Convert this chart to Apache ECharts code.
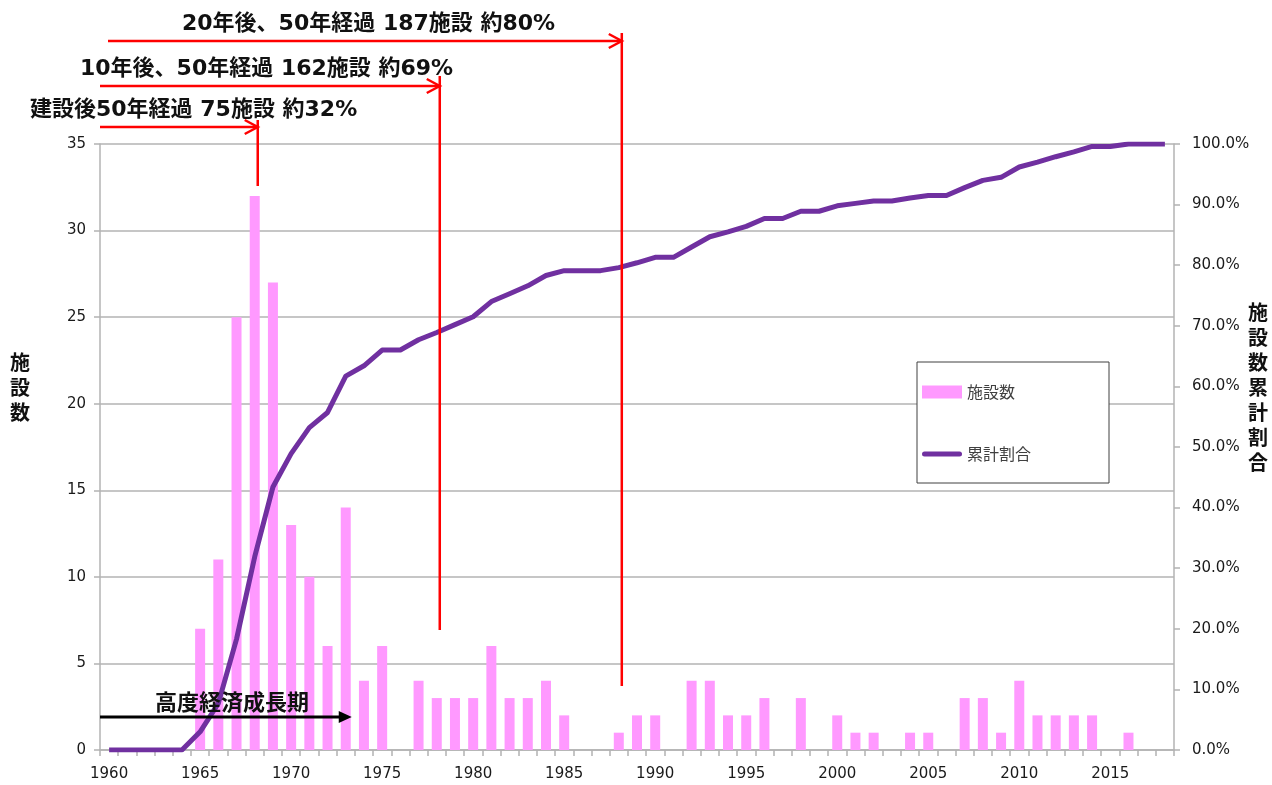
<!DOCTYPE html>
<html><head><meta charset="utf-8">
<script src="https://cdn.jsdelivr.net/npm/echarts@6/dist/echarts.min.js"></script>
<style>html,body{margin:0;padding:0;background:#fff}#c{width:1272px;height:785px}</style>
</head><body><div id="c"></div>
<script>
const years = ['1960','1961','1962','1963','1964','1965','1966','1967','1968','1969',
  '1970','1971','1972','1973','1974','1975','1976','1977','1978','1979',
  '1980','1981','1982','1983','1984','1985','1986','1987','1988','1989',
  '1990','1991','1992','1993','1994','1995','1996','1997','1998','1999',
  '2000','2001','2002','2003','2004','2005','2006','2007','2008','2009',
  '2010','2011','2012','2013','2014','2015','2016','2017','2018'];
const facilityCounts = [0,0,0,0,0, 7,11,25,32,27, 13,10,6,14,4, 6,0,4,3,3,
  3,6,3,3,4, 2,0,0,1,2, 2,0,4,4,2, 2,3,0,3,0, 2,1,1,0,1, 1,0,3,3,1,
  4,2,2,2,2, 0,1,0,0];
const cumulativePct = [0,0,0,0,0, 3.0,7.7,18.3,31.9,43.4, 48.9,53.2,55.7,61.7,63.4,
  66.0,66.0,67.7,68.9,70.2, 71.5,74.0,75.3,76.6,78.3, 79.1,79.1,79.1,79.6,80.4,
  81.3,81.3,83.0,84.7,85.5, 86.4,87.7,87.7,88.9,88.9, 89.8,90.2,90.6,90.6,91.1,
  91.5,91.5,92.8,94.0,94.5, 96.2,97.0,97.9,98.7,99.6, 99.6,100,100,100];
const leftTicks = {min:0, max:35, interval:5};
const rightTicks = {min:0, max:100, interval:10};
const seriesNames = ['施設数','累計割合'];
const annotations = [
  {year:'1968', text:'建設後50年経過 75施設 約32%'},
  {year:'1978', text:'10年後、50年経過 162施設 約69%'},
  {year:'1988', text:'20年後、50年経過 187施設 約80%'}
];
const periodLabel = '高度経済成長期';
const periodEndYear = '1973';
const leftAxisName = '施設数';
const rightAxisName = '施設数累計割合';

const FONT = '"DejaVu Sans", sans-serif';
const JP = '"Noto Sans CJK JP", sans-serif';
const MIX = '"DejaVu Sans", "Noto Sans CJK JP", sans-serif';
const chart = echarts.init(document.getElementById('c'), null, {renderer:'canvas'});
const gridColor = '#b3b3b3';
const lineIcon = 'path://M2.5,0 L37.5,0 A2.5,2.5 0 0 1 37.5,5 L2.5,5 A2.5,2.5 0 0 1 2.5,0 Z';
chart.setOption({
  animation:false,
  backgroundColor:'#fff',
  grid:{left:100, right:98, top:144, bottom:35, containLabel:false},
  legend:{
    orient:'vertical', left:917, top:362,
    padding:[22,78,21,5], itemGap:46,
    borderColor:'#404040', borderWidth:1, backgroundColor:'#fff',
    itemWidth:40, itemHeight:13,
    textStyle:{fontFamily:JP, fontSize:16, color:'#404040'},
    data:[{name:seriesNames[0], icon:'rect'},{name:seriesNames[1], icon:lineIcon}]
  },
  xAxis:{
    type:'category', data:years, boundaryGap:true,
    axisLine:{lineStyle:{color:gridColor, width:1.5}},
    axisTick:{show:true, interval:0, length:6, lineStyle:{color:gridColor, width:1.5}},
    axisLabel:{interval:4, margin:17, fontFamily:FONT, fontSize:15, color:'#1a1a1a'},
    splitLine:{show:false}
  },
  yAxis:[{
    type:'value', min:leftTicks.min, max:leftTicks.max, interval:leftTicks.interval,
    axisLine:{show:true, lineStyle:{color:gridColor, width:1.5}},
    axisTick:{show:true, length:6, lineStyle:{color:gridColor, width:1.5}},
    axisLabel:{margin:14, fontFamily:FONT, fontSize:15, color:'#1a1a1a'},
    splitLine:{show:true, lineStyle:{color:gridColor, width:1.5}}
  },{
    type:'value', min:rightTicks.min, max:rightTicks.max, interval:rightTicks.interval,
    position:'right',
    axisLine:{show:true, lineStyle:{color:gridColor, width:1.5}},
    axisTick:{show:true, length:6, lineStyle:{color:gridColor, width:1.5}},
    axisLabel:{margin:18, fontFamily:FONT, fontSize:15, color:'#1a1a1a',
      formatter:v=>v.toFixed(1)+'%'},
    splitLine:{show:false}
  }],
  series:[{
    name:seriesNames[0], type:'bar', data:facilityCounts, barWidth:10,
    itemStyle:{color:'#ff99ff'}, yAxisIndex:0
  },{
    name:seriesNames[1], type:'line', data:cumulativePct, yAxisIndex:1,
    symbol:'none', showSymbol:false, lineStyle:{color:'#7030a0', width:5, join:'round'},
    itemStyle:{color:'#7030a0'}
  }]
});

const px = y => chart.convertToPixel({xAxisIndex:0}, y);
const red = '#ff0000';
const g = [];
const rows = [
  {textX:30, textY:110, arrowY:127, startX:100, lineTop:120, lineBottom:186},
  {textX:80, textY:69, arrowY:86, startX:100, lineTop:76, lineBottom:630},
  {textX:182, textY:24, arrowY:41, startX:108, lineTop:33, lineBottom:686}
];
annotations.forEach((a,i)=>{
  const r = rows[i];
  const x = px(a.year) + 3;
  g.push({type:'text', x:r.textX, y:r.textY, z:100,
    style:{text:a.text, font:'bold 22px '+MIX, fill:'#111', verticalAlign:'middle', align:'left'}});
  g.push({type:'polyline', z:100, shape:{points:[[r.startX,r.arrowY],[x,r.arrowY]]},
    style:{stroke:red, lineWidth:2.5, fill:null}});
  g.push({type:'polyline', z:100, shape:{points:[[x-13,r.arrowY-7],[x,r.arrowY],[x-13,r.arrowY+7]]},
    style:{stroke:red, lineWidth:2.5, fill:null}});
  g.push({type:'line', z:100, shape:{x1:x, y1:r.lineTop, x2:x, y2:r.lineBottom},
    style:{stroke:red, lineWidth:2.5}});
});
// period arrow
const endX = px(periodEndYear) + 6;
const ay = 717;
g.push({type:'line', z:100, shape:{x1:100, y1:ay, x2:endX-10, y2:ay}, style:{stroke:'#000', lineWidth:3}});
g.push({type:'polygon', z:100, shape:{points:[[endX-13,ay-6],[endX,ay],[endX-13,ay+6]]}, style:{fill:'#000'}});
g.push({type:'text', x:232, y:702, z:100,
  style:{text:periodLabel, font:'bold 22px '+JP, fill:'#111', align:'center', verticalAlign:'middle'}});
// axis names (vertical)
g.push({type:'text', x:20, y:387, z:100,
  style:{text:leftAxisName.split('').join('\n'), font:'bold 20px '+JP, lineHeight:25, fill:'#111', align:'center', verticalAlign:'middle'}});
g.push({type:'text', x:1258, y:387, z:100,
  style:{text:rightAxisName.split('').join('\n'), font:'bold 20px '+JP, lineHeight:25, fill:'#111', align:'center', verticalAlign:'middle'}});
chart.setOption({graphic:g});
</script></body></html>
